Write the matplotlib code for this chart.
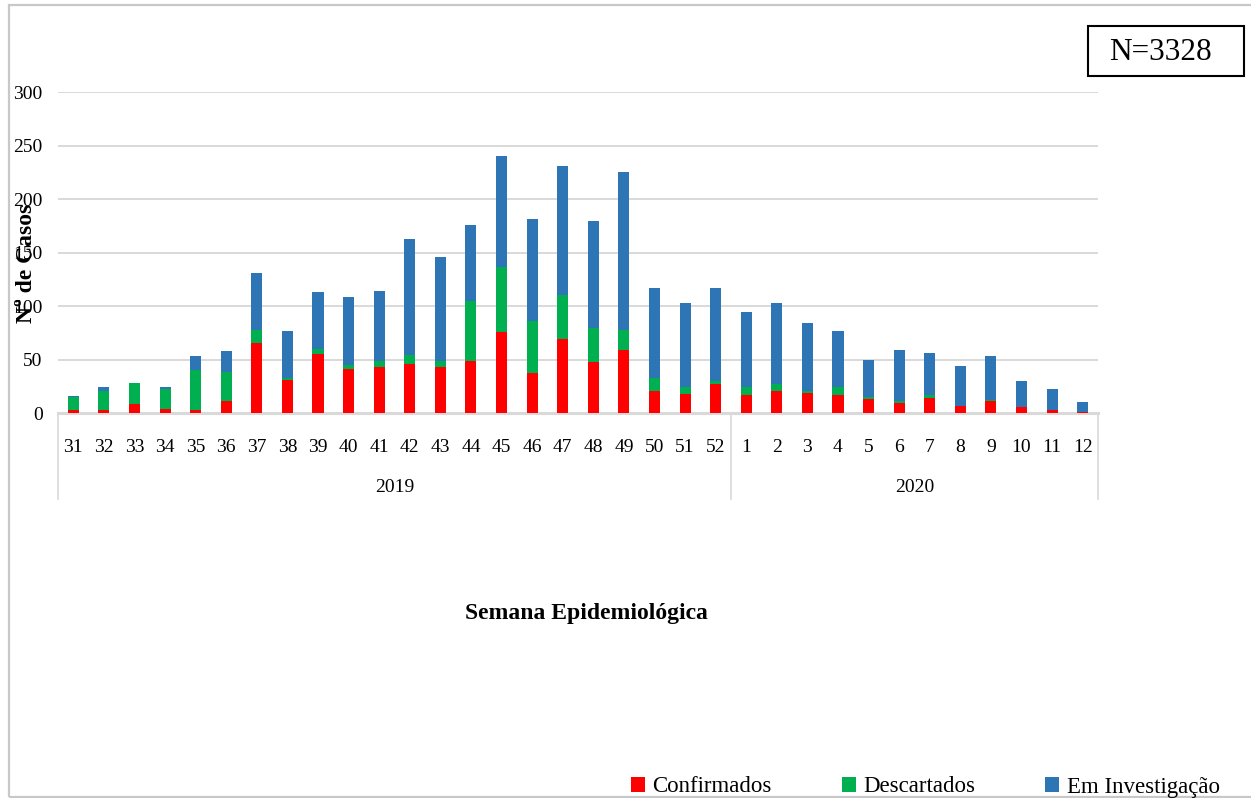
import matplotlib
matplotlib.use("Agg")
import matplotlib.pyplot as plt
from matplotlib.patches import Patch, Rectangle
from matplotlib.lines import Line2D
import matplotlib.transforms as mtransforms
import numpy as np

plt.rcParams['font.family'] = ['Liberation Serif', 'DejaVu Serif']

weeks = ['31', '32', '33', '34', '35', '36', '37', '38', '39', '40', '41', '42',
         '43', '44', '45', '46', '47', '48', '49', '50', '51', '52',
         '1', '2', '3', '4', '5', '6', '7', '8', '9', '10', '11', '12']
years = ['2019', '2020']
year_counts = [22, 12]

confirmados = [3, 3, 8, 4, 3, 11, 65, 31, 55, 41, 43, 46,
               43, 49, 76, 37, 69, 48, 59, 21, 18, 27,
               17, 21, 19, 17, 13, 9, 14, 7, 11, 6, 3, 1]
descartados = [12, 18, 20, 18, 37, 27, 13, 2, 5, 4, 6, 8,
               6, 56, 60, 49, 41, 31, 19, 12, 6, 3,
               7, 6, 2, 7, 2, 2, 3, 0, 1, 0, 0, 0]
investigacao = [1, 3, 0, 2, 13, 20, 53, 44, 53, 63, 65, 109,
                97, 71, 104, 95, 121, 100, 147, 84, 79, 87,
                70, 76, 63, 53, 35, 48, 39, 37, 41, 24, 19, 9]

series_names = ['Confirmados', 'Descartados', 'Em Investigação']
colors = ['#FF0000', '#00B050', '#2E75B6']

W, H = 1251, 798
fig = plt.figure(figsize=(W / 100, H / 100), dpi=100)

# figure frame
fig.add_artist(Rectangle((8.5 / W, 1 - 797 / H), (1260 - 8.5) / W, (797 - 4.5) / H,
                         transform=fig.transFigure, fill=False,
                         edgecolor='#c8c8c8', linewidth=1.6))

ax = fig.add_axes([58 / W, 1 - 413 / H, (1098 - 58) / W, (413 - 92) / H])

x = np.arange(len(weeks))
c = np.array(confirmados)
d = np.array(descartados)
inv = np.array(investigacao)
bw = 0.36
ax.bar(x, c, bw, color=colors[0], zorder=3)
ax.bar(x, d, bw, bottom=c, color=colors[1], zorder=3)
ax.bar(x, inv, bw, bottom=c + d, color=colors[2], zorder=3)

ax.set_xlim(-0.5, len(weeks) - 0.5)
ax.set_ylim(0, 300)
ax.set_yticks(np.arange(0, 301, 50))
ax.yaxis.grid(True, color='#d9d9d9', linewidth=1.4, zorder=0)
ax.set_axisbelow(True)
for s in ['left', 'right', 'top']:
    ax.spines[s].set_visible(False)
ax.spines['bottom'].set_color('#d9d9d9')
ax.spines['bottom'].set_linewidth(2.2)
ax.tick_params(axis='y', length=0, pad=11, labelsize=14)
ax.set_xticks(x)
ax.set_xticklabels(weeks)
ax.tick_params(axis='x', length=0, pad=19, labelsize=14)

# year group labels and separators
trans = mtransforms.blended_transform_factory(ax.transData, ax.transAxes)
ax_h = 413 - 92
start = 0
edges = [-0.5]
for yr, n in zip(years, year_counts):
    center = start + (n - 1) / 2
    ax.text(center, -(487 - 413) / ax_h, yr, transform=trans, ha='center',
            va='center', fontsize=14)
    start += n
    edges.append(start - 0.5)
for e in edges:
    ax.add_line(Line2D([e, e], [0, -(499 - 413) / ax_h], transform=trans,
                       color='#d9d9d9', linewidth=1.2, clip_on=False))

fig.text(586 / W, 1 - 613 / H, 'Semana Epidemiológica', ha='center', va='center',
         fontsize=17, fontweight='bold')
fig.text(27 / W, 1 - 263 / H, 'Nº de Casos', ha='center', va='center',
         rotation=90, fontsize=17, fontweight='bold')

# N box
fig.add_artist(Rectangle((1087.5 / W, 1 - 75.5 / H), (1244 - 1087.5) / W, (75.5 - 26) / H,
                         transform=fig.transFigure, fill=False,
                         edgecolor='black', linewidth=1.5))
fig.text(1160 / W, 1 - 53 / H, 'N=3328', ha='center', va='center', fontsize=22.5)

handles = [Patch(facecolor=col, edgecolor='none') for col in colors]
fig.legend(handles, series_names, loc='center left',
           bbox_to_anchor=(631 / W, 1 - 787 / H), ncol=3, frameon=False,
           fontsize=16.5, handlelength=0.62, handleheight=0.62, handletextpad=0.32,
           columnspacing=3.05, borderpad=0, borderaxespad=0)

fig.savefig('out.png', dpi=100)
